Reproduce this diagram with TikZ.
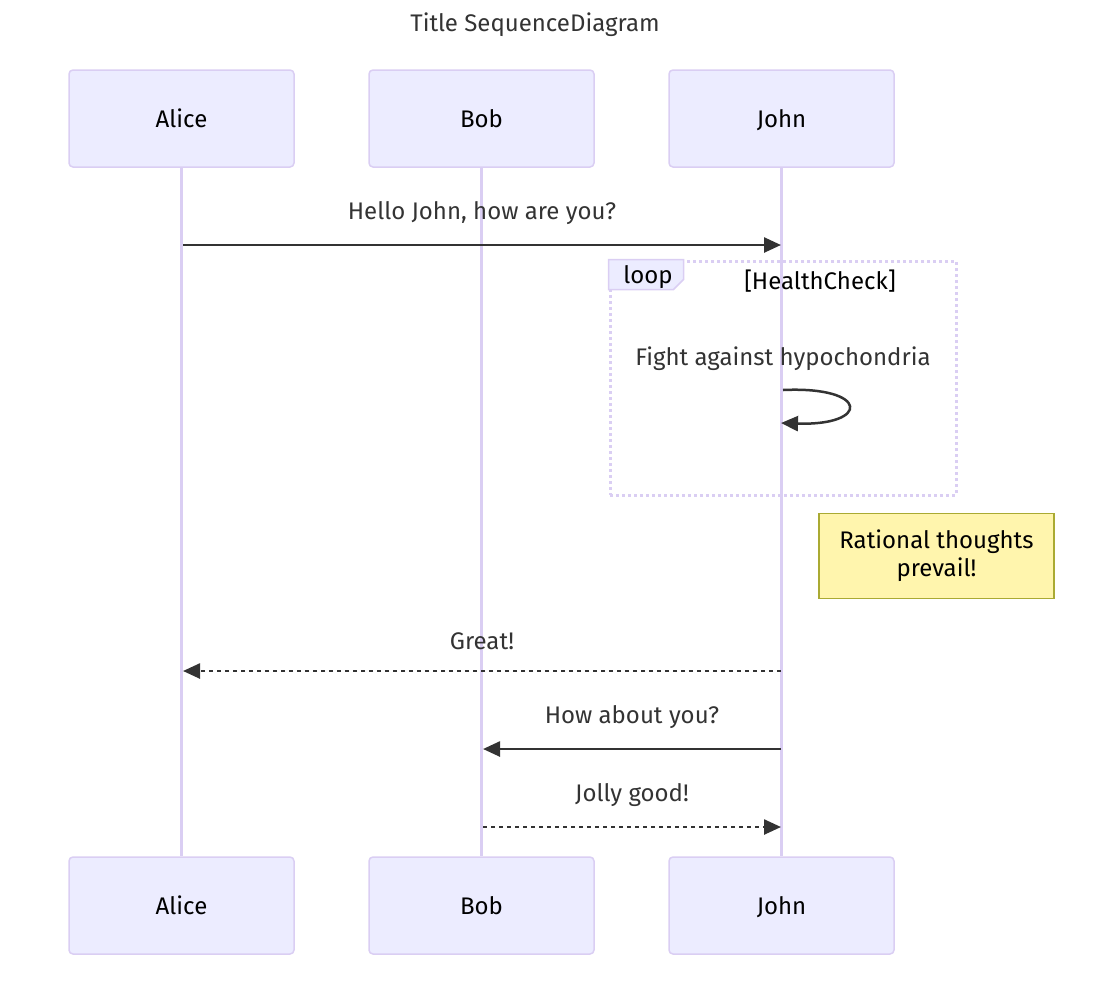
\documentclass[tikz,border=0pt]{standalone}
\usepackage{fontspec}
\setmainfont{Fira Sans}
\usetikzlibrary{arrows.meta}

\definecolor{actorfill}{HTML}{ECECFF}
\definecolor{actorline}{HTML}{DACEF3}
\definecolor{msgcol}{HTML}{333333}
\definecolor{notefill}{HTML}{FFF5AD}
\definecolor{noteline}{HTML}{AAAA33}

\begin{document}
\begin{tikzpicture}[x=1pt, y=-1pt,
  actor/.style={draw=actorline, fill=actorfill, line width=1.5pt, rounded corners=4pt,
    minimum width=225pt, minimum height=97pt, text height=17pt, text depth=0pt,
    font=\fontsize{24}{28}\selectfont},
  lifeline/.style={draw=actorline, line width=3pt},
  msg/.style={draw=msgcol, line width=2.5pt, -{Triangle[length=17pt, width=15pt]}},
  reply/.style={msg, dash pattern=on 4pt off 4pt},
  msgtext/.style={text=msgcol, font=\fontsize{24}{28}\selectfont},
  loopframe/.style={draw=actorline, line width=3pt, dash pattern=on 3pt off 3pt,
    minimum width=346pt, minimum height=234pt, inner sep=0pt},
  note/.style={draw=noteline, fill=notefill, line width=1.5pt, align=center,
    minimum width=235pt, minimum height=85pt, font=\fontsize{24}{28}\selectfont}
]
\useasboundingbox (0,0) rectangle (1094,986);

% Title
\node[msgtext] (title) at (535,25) {Title SequenceDiagram};

% Actors, top and bottom
\node[actor] (alice) at (181.5,118.5) {Alice};
\node[actor] (bob) at (481.5,118.5) {Bob};
\node[actor] (john) at (781.5,118.5) {John};
\node[actor] (alice2) at (181.5,905.5) {Alice};
\node[actor] (bob2) at (481.5,905.5) {Bob};
\node[actor] (john2) at (781.5,905.5) {John};

% Lifelines
\draw[lifeline] (alice.south) -- (alice2.north);
\draw[lifeline] (bob.south) -- (bob2.north);
\draw[lifeline] (john.south) -- (john2.north);

% Loop frame
\node[loopframe] (loop) at (783,378) {};
\draw[draw=actorline, fill=actorfill, line width=1.5pt]
  (loop.north west) -- ++(75,0) -- ++(0,20) -- ++(-10,10) -- ++(-65,0) -- cycle;
\node[msgtext, text=black] (looplabel) at (648,277) {loop};
\node[text=black, font=\fontsize{24}{28}\selectfont] (cond) at (820,281) {[HealthCheck]};

% Message end points
\coordinate (a1) at (183,245);  \coordinate (j1) at (781,245);
\coordinate (s1) at (783,390);  \coordinate (s2) at (781,423);
\coordinate (j2) at (781,671);  \coordinate (a2) at (183,671);
\coordinate (j3) at (781,749);  \coordinate (b3) at (483,749);
\coordinate (b4) at (483,827);  \coordinate (j4) at (781,827);

% Messages
\draw[msg] (a1) -- node[msgtext, midway, yshift=32pt] (m1) {Hello John, how are you?} (j1);
\node[msgtext] (m2) at (783,359) {Fight against hypochondria};
\draw[msg] (s1) .. controls (870,386) and (870,426) .. (s2);
\draw[reply] (j2) -- node[msgtext, midway, yshift=30pt] (m3) {Great!} (a2);
\draw[msg] (j3) -- node[msgtext, midway, yshift=32pt] (m4) {How about you?} (b3);
\draw[reply] (b4) -- node[msgtext, midway, yshift=32pt] (m5) {Jolly good!} (j4);

% Note
\node[note] (thoughts) at (936.5,556) {Rational thoughts\\prevail!};

\end{tikzpicture}
\end{document}
